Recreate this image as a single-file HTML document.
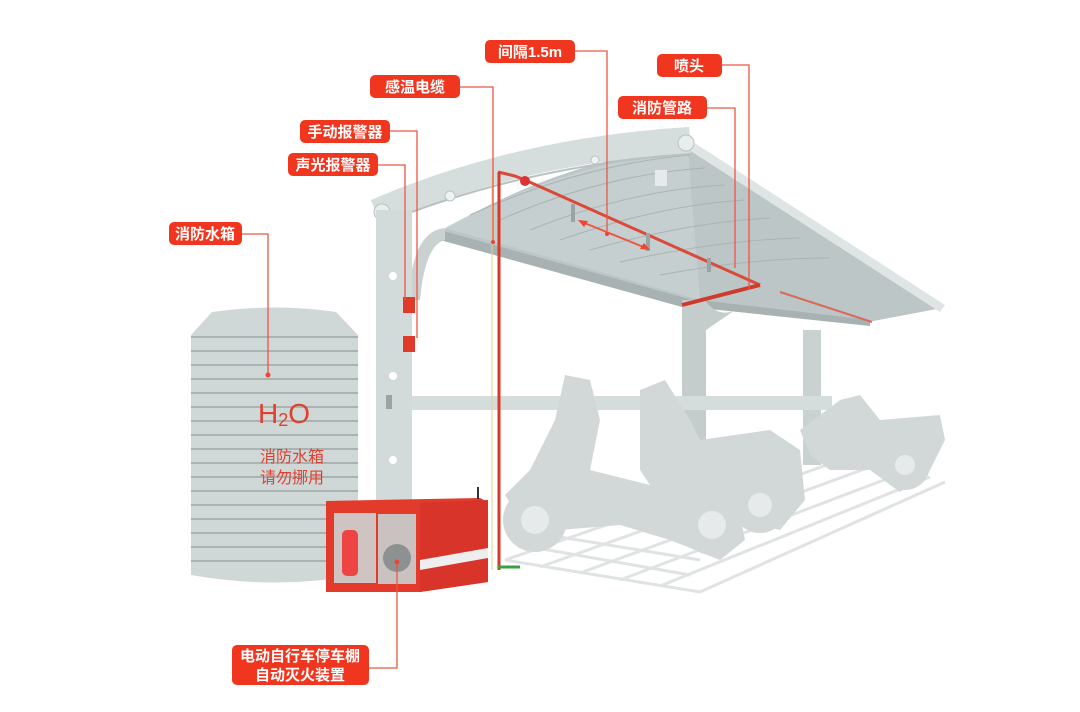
<!DOCTYPE html>
<html><head><meta charset="utf-8"><style>
html,body{margin:0;padding:0;background:#fff;}
svg{display:block}
.lb{font-family:"Liberation Sans","Noto Sans CJK SC",sans-serif;font-size:15px;fill:#fff;font-weight:bold}
</style></head><body>
<svg width="1080" height="712" viewBox="0 0 1080 712" xmlns="http://www.w3.org/2000/svg">
<rect width="1080" height="712" fill="#fff"/>
<!-- ground grid -->
<g stroke="#dfe3e3" stroke-width="3" fill="none">
<path d="M505 560 L700 592 L945 482"/>
<path d="M505 560 L800 458"/>
<path d="M540 567 L835 462"/><path d="M580 573 L870 467"/><path d="M620 580 L905 472"/><path d="M660 586 L930 477"/>
<path d="M520 545 L690 575"/><path d="M560 537 L700 560"/>
</g>
<!-- far column -->
<rect x="803" y="330" width="18" height="135" fill="#c9d1d1"/>
<!-- roof underside -->
<path d="M440 232 Q560 160 690 146 L942 308 L868 322 L700 302 Z" fill="#bcc6c6"/>
<path d="M445 228 Q560 165 688 150 L700 300 Z" fill="#c6cfcf"/>
<g stroke="#aab4b4" stroke-width="1" fill="none">
<path d="M470 215 Q580 165 690 155"/><path d="M500 220 Q600 175 705 168"/><path d="M530 230 Q630 190 725 185"/><path d="M560 240 Q660 205 745 200"/><path d="M590 250 Q690 222 770 218"/><path d="M620 262 Q720 240 800 238"/><path d="M660 275 Q750 258 830 258"/>
</g>
<path d="M690 140 L945 305 L940 312 L686 148 Z" fill="#dfe5e5"/>
<path d="M440 230 L700 302 L700 312 L440 240 Z" fill="#a8b2b2"/>
<path d="M700 300 L870 320 L870 326 L700 308 Z" fill="#a8b2b2"/>
<!-- middle column -->
<path d="M682 300 L706 300 L706 492 L682 492 Z" fill="#c4cccc"/>
<path d="M706 302 Q720 318 735 310 L706 330 Z" fill="#c4cccc"/>
<!-- front arch beam -->
<path d="M376 212 Q520 150 690 140" stroke="#d6dddd" stroke-width="26" fill="none"/>
<path d="M376 226 Q520 166 690 154" stroke="#b9c2c2" stroke-width="2" fill="none"/>
<circle cx="382" cy="212" r="8" fill="#e8eded" stroke="#b9c2c2"/>
<circle cx="686" cy="143" r="8" fill="#e8eded" stroke="#b9c2c2"/>
<circle cx="450" cy="196" r="5" fill="#eef2f2" stroke="#b9c2c2"/>
<circle cx="595" cy="160" r="4" fill="#eef2f2" stroke="#b9c2c2"/>
<!-- left column -->
<path d="M376 210 L412 210 L412 500 L376 500 Z" fill="#d3dada"/>
<path d="M412 270 Q420 230 445 228 L445 240 Q425 245 420 300 L412 300 Z" fill="#c9d1d1"/>
<circle cx="393" cy="276" r="4" fill="#fff"/><circle cx="393" cy="376" r="4" fill="#fff"/><circle cx="393" cy="460" r="4" fill="#fff"/>
<rect x="386" y="395" width="6" height="14" fill="#9aa4a4"/>
<rect x="412" y="396" width="420" height="14" fill="#d5dcdc"/>
<rect x="403" y="297" width="12" height="16" fill="#e03a2a"/>
<rect x="403" y="336" width="12" height="16" fill="#e03a2a"/>
<!-- red pipes on roof -->
<path d="M498 172 L515 176 L525 180 L760 285" stroke="#d94a3a" stroke-width="3" fill="none"/>
<path d="M682 305 L760 285" stroke="#d03a2a" stroke-width="4"/>
<path d="M780 292 L872 322" stroke="#d96a5a" stroke-width="2"/>
<circle cx="525" cy="181" r="5" fill="#d33"/>
<g fill="#9aa4a4"><rect x="571" y="204" width="4" height="18"/><rect x="646" y="233" width="4" height="18"/><rect x="707" y="258" width="4" height="14"/><rect x="655" y="170" width="12" height="16" fill="#e5eaea"/></g>
<line x1="492" y1="175" x2="492" y2="570" stroke="#e9d08a" stroke-width="1"/>
<line x1="499" y1="172" x2="499" y2="570" stroke="#d63a2a" stroke-width="3"/>
<line x1="498" y1="567" x2="520" y2="567" stroke="#3aa040" stroke-width="3"/>
<!-- scooters -->
<g fill="#d2d8d8">
<path d="M840 400 L860 395 L880 420 L940 415 L945 440 L930 470 L900 492 L870 470 L830 470 L810 455 L800 430 Z"/>
<circle cx="905" cy="465" r="25"/>
<path d="M640 390 L665 380 L690 420 L700 440 L770 430 L800 450 L805 500 L780 530 L740 520 L700 510 L660 500 L640 470 Z"/>
<circle cx="760" cy="505" r="28"/>
<path d="M565 375 L590 380 L600 420 L590 470 L650 485 L700 470 L735 490 L745 540 L720 560 L670 540 L620 525 L560 530 L520 520 L505 495 L530 470 L555 420 Z"/>
<circle cx="535" cy="520" r="32"/>
<circle cx="712" cy="525" r="30"/>
</g>
<g fill="#e6eaea"><circle cx="535" cy="520" r="14"/><circle cx="712" cy="525" r="14"/><circle cx="760" cy="505" r="12"/><circle cx="905" cy="465" r="10"/></g>
<!-- tank -->
<path d="M191 335 L212 312 Q275 303 336 312 L358 335 L358 575 Q275 590 191 575 Z" fill="#cfd7d7"/>
<g stroke="#a9b3b3" stroke-width="2">
<line x1="191" y1="337" x2="358" y2="337"/><line x1="191" y1="351" x2="358" y2="351"/><line x1="191" y1="365" x2="358" y2="365"/><line x1="191" y1="379" x2="358" y2="379"/><line x1="191" y1="393" x2="358" y2="393"/><line x1="191" y1="407" x2="358" y2="407"/><line x1="191" y1="421" x2="358" y2="421"/><line x1="191" y1="435" x2="358" y2="435"/><line x1="191" y1="449" x2="358" y2="449"/><line x1="191" y1="463" x2="358" y2="463"/><line x1="191" y1="477" x2="358" y2="477"/><line x1="191" y1="491" x2="358" y2="491"/><line x1="191" y1="505" x2="358" y2="505"/><line x1="191" y1="519" x2="358" y2="519"/><line x1="191" y1="533" x2="358" y2="533"/><line x1="191" y1="547" x2="358" y2="547"/><line x1="191" y1="561" x2="358" y2="561"/>
</g>
<text x="258" y="423" font-family="Liberation Sans,sans-serif" font-size="28" fill="#e0412f">H<tspan font-size="18" dy="3">2</tspan><tspan dy="-3">O</tspan></text>
<text x="292" y="462" text-anchor="middle" font-family="Liberation Sans,Noto Sans CJK SC,sans-serif" font-size="16" fill="#e0412f">消防水箱</text>
<text x="292" y="483" text-anchor="middle" font-family="Liberation Sans,Noto Sans CJK SC,sans-serif" font-size="16" fill="#e0412f">请勿挪用</text>
<!-- cabinet -->
<path d="M326 501 L480 498 L488 502 L488 582 L420 592 L326 592 Z" fill="#e23a2b"/>
<path d="M420 503 L488 500 L488 582 L420 592 Z" fill="#d8342a"/>
<rect x="334" y="513" width="42" height="70" fill="#cfc4c2"/>
<rect x="378" y="514" width="38" height="70" fill="#c9c2c0"/>
<rect x="342" y="530" width="16" height="46" rx="5" fill="#e44"/>
<circle cx="397" cy="558" r="14" fill="#8d9191"/>
<path d="M420 560 L488 548 L488 558 L420 570 Z" fill="#eee"/>
<rect x="477" y="487" width="2" height="12" fill="#333"/>
<!-- connector lines -->
<g stroke="#ee5644" stroke-width="1.3" fill="none">
<path d="M574 51 L607 51 L607 231"/>
<path d="M722 65 L749 65 L749 290"/>
<path d="M460 87 L493 87 L493 240"/>
<path d="M707 108 L735 108 L735 268"/>
<path d="M390 131 L417 131 L417 338"/>
<path d="M378 165 L405 165 L405 300"/>
<path d="M242 234 L268 234 L268 375"/>
<path d="M369 668 L397 668 L397 562"/>
<path d="M582 222 L646 248" stroke-width="2"/>
</g>
<path d="M578 220 L588 221 L584 227 Z" fill="#ee4433"/>
<path d="M650 250 L640 249 L644 243 Z" fill="#ee4433"/>
<g fill="#ee4433"><circle cx="607" cy="234" r="2"/><circle cx="268" cy="375" r="2.5"/><circle cx="397" cy="562" r="2.5"/><circle cx="493" cy="242" r="2"/></g>
<!-- labels -->
<g fill="#f0361f">
<rect x="485" y="40" width="90" height="23" rx="5"/>
<rect x="657" y="54" width="65" height="23" rx="5"/>
<rect x="370" y="75" width="90" height="23" rx="5"/>
<rect x="618" y="96" width="89" height="23" rx="5"/>
<rect x="300" y="120" width="90" height="23" rx="5"/>
<rect x="288" y="153" width="90" height="23" rx="5"/>
<rect x="169" y="222" width="73" height="23" rx="5"/>
<rect x="232" y="645" width="137" height="40" rx="5"/>
</g>
<g class="lb" text-anchor="middle">
<text x="530" y="57">间隔1.5m</text>
<text x="689" y="71">喷头</text>
<text x="415" y="92">感温电缆</text>
<text x="662" y="113">消防管路</text>
<text x="345" y="137">手动报警器</text>
<text x="333" y="170">声光报警器</text>
<text x="205" y="239">消防水箱</text>
<text x="300" y="661">电动自行车停车棚</text>
<text x="300" y="680">自动灭火装置</text>
</g>
</svg>
</body></html>
